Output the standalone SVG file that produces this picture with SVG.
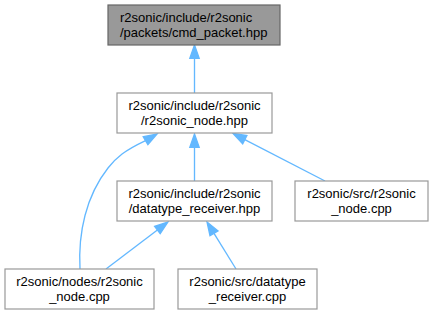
<svg xmlns="http://www.w3.org/2000/svg" width="434" height="315" viewBox="0 0 434 315">
  <style>
    .box { fill: #ffffff; stroke: #999999; stroke-width: 1.2; }
    .box.current { fill: #999999; stroke: #666666; }
    .lbl { font-family: "Liberation Sans", Arial, Helvetica, sans-serif; font-size: 13px; fill: #000000; }
    .mid { text-anchor: middle; }
    .edge { fill: none; stroke: #63b8ff; stroke-width: 1.33; }
    .head { fill: #63b8ff; stroke: #63b8ff; stroke-width: 1.33; }
  </style>
  <rect width="434" height="315" fill="#ffffff"/>

  <!-- include dependency edges -->
  <g id="edges">
    <!-- r2sonic_node.hpp -> cmd_packet.hpp -->
    <path class="edge" d="M194.5,93 L194.5,58.3"/>
    <polygon class="head" points="194.5,45 199.2,58.3 189.8,58.3"/>
    <!-- datatype_receiver.hpp -> r2sonic_node.hpp -->
    <path class="edge" d="M194.5,181 L194.5,147.3"/>
    <polygon class="head" points="194.5,134 199.2,147.3 189.8,147.3"/>
    <!-- src/r2sonic_node.cpp -> r2sonic_node.hpp -->
    <path class="edge" d="M325,181 L244.8,139.6"/>
    <polygon class="head" points="233,133.5 246.9,135.5 242.7,143.8"/>
    <!-- nodes/r2sonic_node.cpp -> r2sonic_node.hpp -->
    <path class="edge" d="M80,269 C78,233 86,196 108,168 C117,157 124,151 145.5,140.7"/>
    <polygon class="head" points="157,134 147.9,144.7 143.2,136.7"/>
    <!-- nodes/r2sonic_node.cpp -> datatype_receiver.hpp -->
    <path class="edge" d="M106,269 L157.4,230"/>
    <polygon class="head" points="168,222 160.2,233.7 154.6,226.3"/>
    <!-- src/datatype_receiver.cpp -> datatype_receiver.hpp -->
    <path class="edge" d="M236,269 L214,233.3"/>
    <polygon class="head" points="207,222 218,230.9 210,235.8"/>
  </g>

  <g id="node_cmd_packet_hpp">
    <rect class="box current" x="108" y="5" width="172" height="40"/>
    <text class="lbl" x="120" y="22">r2sonic/include/r2sonic</text>
    <text class="lbl" x="120" y="37">/packets/cmd_packet.hpp</text>
  </g>

  <g id="node_r2sonic_node_hpp">
    <rect class="box" x="117" y="93" width="155" height="40"/>
    <text class="lbl mid" x="194.5" y="110">r2sonic/include/r2sonic</text>
    <text class="lbl mid" x="194.5" y="125">/r2sonic_node.hpp</text>
  </g>

  <g id="node_datatype_receiver_hpp">
    <rect class="box" x="117" y="181" width="155" height="40"/>
    <text class="lbl mid" x="194.5" y="198">r2sonic/include/r2sonic</text>
    <text class="lbl mid" x="194.5" y="213">/datatype_receiver.hpp</text>
  </g>

  <g id="node_src_r2sonic_node_cpp">
    <rect class="box" x="295" y="181" width="133" height="40"/>
    <text class="lbl mid" x="361.5" y="198">r2sonic/src/r2sonic</text>
    <text class="lbl mid" x="361.5" y="213">_node.cpp</text>
  </g>

  <g id="node_nodes_r2sonic_node_cpp">
    <rect class="box" x="5" y="269" width="149" height="40"/>
    <text class="lbl mid" x="79.5" y="286">r2sonic/nodes/r2sonic</text>
    <text class="lbl mid" x="79.5" y="301">_node.cpp</text>
  </g>

  <g id="node_src_datatype_receiver_cpp">
    <rect class="box" x="178" y="269" width="139" height="40"/>
    <text class="lbl mid" x="247.5" y="286">r2sonic/src/datatype</text>
    <text class="lbl mid" x="247.5" y="301">_receiver.cpp</text>
  </g>
</svg>
